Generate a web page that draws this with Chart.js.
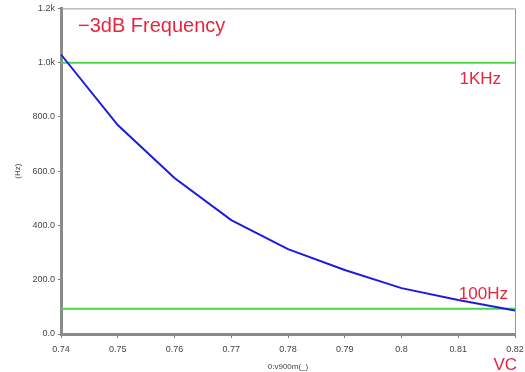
<!DOCTYPE html>
<html>
<head>
<meta charset="utf-8">
<script src="https://cdn.jsdelivr.net/npm/chart.js@4/dist/chart.umd.min.js"></script>
<style>
  html, body { margin: 0; padding: 0; background: #fff; }
  #wrap { width: 525px; height: 372px; }
</style>
</head>
<body>
<div id="wrap"><canvas id="cutoffChart"></canvas></div>
<script>
// control voltage sweep (V) and the -3dB frequency it gives (Hz)
var vc = [0.74, 0.75, 0.76, 0.77, 0.78, 0.79, 0.80, 0.81, 0.82];
var freq = [1030, 770, 575, 420, 313, 236, 169, 125, 87];
// reference levels: 1KHz and 100Hz lines
var refLevels = [1000, 93];
var refNames = ["1KHz", "100Hz"];
var yTicks = ["0.0", "200.0", "400.0", "600.0", "800.0", "1.0k", "1.2k"];

var Red = '#e8253f';
var Blue = '#1c1ce0';
var Green = '#4cd64c';
var FONT = '"Liberation Sans", Arial, sans-serif';

function hline(level) {
    return [{ x: vc[0], y: level }, { x: vc[vc.length - 1], y: level }];
}

var labelsPlugin = {
    id: 'labels',
    afterDraw: function (chart) {
        var c = chart.ctx;
        var a = chart.chartArea;
        var xs = chart.scales.x, ys = chart.scales.y;
        c.save();
        // frame on top / right
        c.strokeStyle = '#999';
        c.lineWidth = 1;
        c.beginPath();
        c.moveTo(a.left, a.top + 0.5);
        c.lineTo(a.right + 0.5, a.top + 0.5);
        c.lineTo(a.right + 0.5, a.bottom);
        c.stroke();

        c.fillStyle = Red;
        c.textBaseline = 'alphabetic';
        c.font = '20px ' + FONT;
        c.textAlign = 'left';
        c.fillText('\u22123dB Frequency', xs.getPixelForValue(0.743), ys.getPixelForValue(1112));
        c.font = '17px ' + FONT;
        c.textAlign = 'right';
        c.fillText(refNames[0], a.right - 14, ys.getPixelForValue(refLevels[0]) + 21);
        c.fillText(refNames[1], a.right - 7, ys.getPixelForValue(refLevels[1]) - 10);
        c.fillText('VC', a.right + 2, 370);
        c.restore();
    }
};

var ctx = document.getElementById('cutoffChart');

var chart = new Chart(ctx, {
    type: 'line',
    data: {
        datasets: [
            {
                data: vc.map(function (v, i) { return { x: v, y: freq[i] }; }),
                borderColor: Blue,
                borderWidth: 2,
                pointRadius: 0,
                tension: 0
            },
            {
                data: hline(refLevels[0]),
                borderColor: Green,
                borderWidth: 2,
                pointRadius: 0
            },
            {
                data: hline(refLevels[1]),
                borderColor: Green,
                borderWidth: 2,
                pointRadius: 0
            }
        ]
    },
    options: {
        responsive: true,
        maintainAspectRatio: false,
        animation: false,
        layout: { padding: { top: 8, right: 0, left: 13, bottom: 0 } },
        plugins: {
            legend: { display: false },
            tooltip: { enabled: false }
        },
        scales: {
            x: {
                type: 'linear',
                min: 0.74,
                max: 0.82,
                afterFit: function (scale) {
                    scale.height = 38;
                    scale.paddingRight = 10;
                    scale.paddingLeft = 0;
                },
                ticks: {
                    stepSize: 0.01,
                    font: { size: 9, family: FONT },
                    color: '#444',
                    padding: 6,
                    maxRotation: 0,
                    callback: function (v) { return String(Number(v.toFixed(2))); }
                },
                grid: { drawOnChartArea: false, drawTicks: true, tickLength: 4, color: '#777' },
                border: { display: true, width: 3, color: '#8a8a8a' },
                title: {
                    display: true,
                    text: '0:v900m(_)',
                    font: { size: 8, family: FONT },
                    color: '#444',
                    padding: { top: 0, bottom: 0 }
                }
            },
            y: {
                min: 0,
                max: 1200,
                afterFit: function (scale) { scale.width = 48; },
                ticks: {
                    stepSize: 200,
                    font: { size: 9, family: FONT },
                    color: '#444',
                    padding: 3,
                    callback: function (v) { return yTicks[Math.round(v / 200)]; }
                },
                grid: { drawOnChartArea: false, drawTicks: true, tickLength: 3, color: '#777' },
                border: { display: true, width: 3, color: '#8a8a8a' },
                title: {
                    display: true,
                    text: '(Hz)',
                    font: { size: 8, family: FONT },
                    color: '#444',
                    padding: { top: 0, bottom: 4 }
                }
            }
        }
    },
    plugins: [labelsPlugin]
});
</script>
</body>
</html>
